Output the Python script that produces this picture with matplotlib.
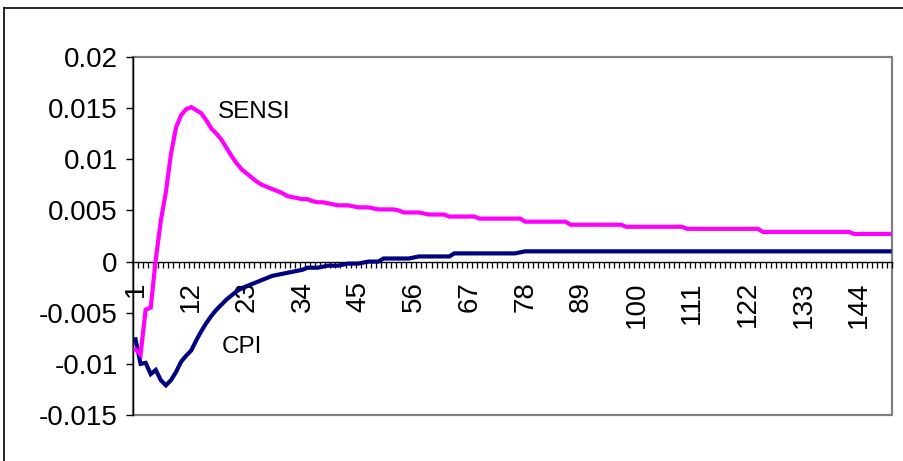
import matplotlib
matplotlib.use("Agg")
import matplotlib.pyplot as plt
from matplotlib.lines import Line2D
from matplotlib.patches import Rectangle
from matplotlib.ticker import FixedLocator
import numpy as np

plt.rcParams['font.family'] = ['Liberation Sans', 'DejaVu Sans']

categories = [str(i) for i in range(1, 151)]
tick_labels = ["1", "12", "23", "34", "45", "56", "67", "78", "89", "100",
               "111", "122", "133", "144"]
y_ticks = [-0.015, -0.01, -0.005, 0, 0.005, 0.01, 0.015, 0.02]
y_tick_labels = ["-0.015", "-0.01", "-0.005", "0", "0.005", "0.01", "0.015", "0.02"]

sensi = [
    -0.0086, -0.0091, -0.0047, -0.0045, 0.0002, 0.0040, 0.0068, 0.0105, 0.0131, 0.0143,
    0.0149, 0.0151, 0.0148, 0.0145, 0.0138, 0.0130, 0.0125, 0.0119, 0.0111, 0.0103,
    0.0096, 0.0090, 0.0086, 0.0082, 0.0078, 0.0075, 0.0073, 0.0071, 0.0069, 0.0067,
    0.0064, 0.0063, 0.0062, 0.0061, 0.0061, 0.0059, 0.0058, 0.0058, 0.0057, 0.0056,
    0.0055, 0.0055, 0.0055, 0.0054, 0.0053, 0.0053, 0.0053, 0.0052, 0.0051, 0.0051,
    0.0051, 0.0051, 0.0050, 0.0048, 0.0048, 0.0048, 0.0048, 0.0047, 0.0046, 0.0046,
    0.0046, 0.0046, 0.0044, 0.0044, 0.0044, 0.0044, 0.0044, 0.0044, 0.0042, 0.0042,
    0.0042, 0.0042, 0.0042, 0.0042, 0.0042, 0.0042, 0.0042, 0.0039, 0.0039, 0.0039,
    0.0039, 0.0039, 0.0039, 0.0039, 0.0039, 0.0039, 0.0036, 0.0036, 0.0036, 0.0036,
    0.0036, 0.0036, 0.0036, 0.0036, 0.0036, 0.0036, 0.0036, 0.0034, 0.0034, 0.0034,
    0.0034, 0.0034, 0.0034, 0.0034, 0.0034, 0.0034, 0.0034, 0.0034, 0.0034, 0.0032,
    0.0032, 0.0032, 0.0032, 0.0032, 0.0032, 0.0032, 0.0032, 0.0032, 0.0032, 0.0032,
    0.0032, 0.0032, 0.0032, 0.0032, 0.0029, 0.0029, 0.0029, 0.0029, 0.0029, 0.0029,
    0.0029, 0.0029, 0.0029, 0.0029, 0.0029, 0.0029, 0.0029, 0.0029, 0.0029, 0.0029,
    0.0029, 0.0029, 0.0027, 0.0027, 0.0027, 0.0027, 0.0027, 0.0027, 0.0027, 0.0027,
]

cpi = [
    -0.0076, -0.0100, -0.0099, -0.0110, -0.0106, -0.0116, -0.0121, -0.0116, -0.0108, -0.0098,
    -0.0092, -0.0087, -0.0077, -0.0068, -0.0060, -0.0053, -0.0047, -0.0042, -0.0037, -0.0033,
    -0.0029, -0.0026, -0.0024, -0.0022, -0.0020, -0.0018, -0.0016, -0.0014, -0.0013, -0.0012,
    -0.0011, -0.0010, -0.0009, -0.0008, -0.0006, -0.0006, -0.0006, -0.0005, -0.0004, -0.0004,
    -0.0004, -0.0003, -0.0002, -0.0002, -0.0002, -0.0001, 0.0000, 0.0000, 0.0000, 0.0003,
    0.0003, 0.0003, 0.0003, 0.0003, 0.0003, 0.0004, 0.0005, 0.0005, 0.0005, 0.0005,
    0.0005, 0.0005, 0.0005, 0.0008, 0.0008, 0.0008, 0.0008, 0.0008, 0.0008, 0.0008,
    0.0008, 0.0008, 0.0008, 0.0008, 0.0008, 0.0008, 0.0009, 0.0010, 0.0010, 0.0010,
    0.0010, 0.0010, 0.0010, 0.0010, 0.0010, 0.0010, 0.0010, 0.0010, 0.0010, 0.0010,
    0.0010, 0.0010, 0.0010, 0.0010, 0.0010, 0.0010, 0.0010, 0.0010, 0.0010, 0.0010,
    0.0010, 0.0010, 0.0010, 0.0010, 0.0010, 0.0010, 0.0010, 0.0010, 0.0010, 0.0010,
    0.0010, 0.0010, 0.0010, 0.0010, 0.0010, 0.0010, 0.0010, 0.0010, 0.0010, 0.0010,
    0.0010, 0.0010, 0.0010, 0.0010, 0.0010, 0.0010, 0.0010, 0.0010, 0.0010, 0.0010,
    0.0010, 0.0010, 0.0010, 0.0010, 0.0010, 0.0010, 0.0010, 0.0010, 0.0010, 0.0010,
    0.0010, 0.0010, 0.0010, 0.0010, 0.0010, 0.0010, 0.0010, 0.0010, 0.0010, 0.0010,
]

W, H = 904, 461
fig = plt.figure(figsize=(W / 100, H / 100), dpi=100)
fig.patch.set_facecolor('white')

L, R, T, B = 133, 892, 57, 415
ax = fig.add_axes([L / W, 1 - B / H, (R - L) / W, (B - T) / H])

x = np.arange(1, len(categories) + 1)
ax.plot(x, cpi, color='#000080', lw=3.0, zorder=3, solid_joinstyle='miter')
ax.plot(x, sensi, color='#FF00FF', lw=3.0, zorder=4, solid_joinstyle='miter')

ax.set_xlim(0.5, len(categories) + 0.5)
ax.set_ylim(-0.015, 0.02)

# plot area border
ax.add_patch(Rectangle((0, 0), 1, 1, transform=ax.transAxes, fill=False,
                       edgecolor='#808080', lw=1.6, zorder=0, clip_on=False))
for s in ['top', 'right']:
    ax.spines[s].set_visible(False)
ax.spines['left'].set_color('black')
ax.spines['left'].set_linewidth(1.0)
ax.spines['bottom'].set_position(('data', 0))
ax.spines['bottom'].set_color('black')
ax.spines['bottom'].set_linewidth(1.0)

# y axis
ax.set_yticks(y_ticks)
ax.set_yticklabels(y_tick_labels, fontsize=20)
ax.tick_params(axis='y', direction='out', length=5, width=1, pad=6, colors='black')

# x axis
label_pos = [categories.index(t) + 1 for t in tick_labels]
ax.set_xticks(label_pos)
ax.set_xticklabels(tick_labels, fontsize=20, rotation=90, va='top', ha='center')
ax.xaxis.set_minor_locator(FixedLocator(np.arange(0.5, len(categories) + 1, 1.0)))
ax.tick_params(axis='x', which='major', length=0, pad=14)
ax.tick_params(axis='x', which='minor', direction='out', length=4.5, width=0.9)

# series labels
ax.text(17.3, 0.0146, "SENSI", fontsize=17.5, va='center', ha='left')
ax.text(18.0, -0.0084, "CPI", fontsize=17.5, va='center', ha='left')

# outer chart border
fig.add_artist(Line2D([4 / W, 1.01], [1 - 8 / H, 1 - 8 / H], color='black', lw=1.2,
                      transform=fig.transFigure))
fig.add_artist(Line2D([4 / W, 4 / W], [1 - 8 / H, -0.01], color='black', lw=1.2,
                      transform=fig.transFigure))

fig.savefig("out.png", dpi=100)
